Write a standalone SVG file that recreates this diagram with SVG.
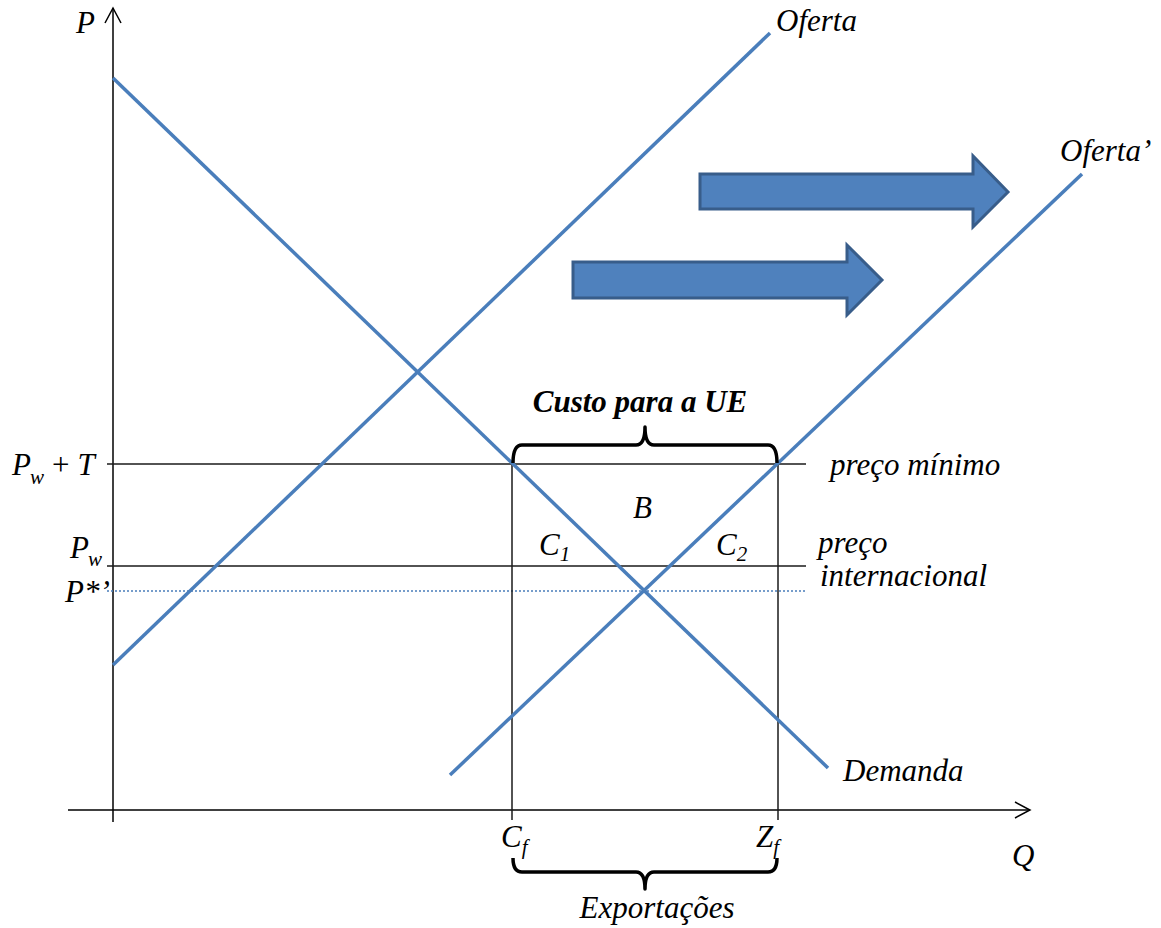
<svg xmlns="http://www.w3.org/2000/svg" width="1161" height="928" viewBox="0 0 1161 928">
<style>
.ax{stroke:#000;stroke-width:1.5;fill:none}
.thin{stroke:#1a1a1a;stroke-width:1.5;fill:none}
.curve{stroke:#4a7ebb;stroke-width:3.5;fill:none}
.brace{stroke:#000;stroke-width:3.5;fill:none;stroke-linejoin:round}
.big{fill:#4f81bd;stroke:#385d8a;stroke-width:3}
text{font-family:"Liberation Serif","Times New Roman",serif;font-style:italic;fill:#000;font-size:31px}
.sub{font-size:21px}
.bold{font-weight:bold}
</style>
<rect width="1161" height="928" fill="#fff"/>
<g id="axes">
<line class="ax" x1="113" y1="8" x2="113" y2="822"/>
<polyline class="ax" points="105,23 113,8 121,23"/>
<line class="ax" x1="68" y1="810" x2="1030" y2="810"/>
<polyline class="ax" points="1015,802 1030,810 1015,818"/>
</g>
<g id="connectors">
<line class="thin" x1="107" y1="464" x2="806" y2="464"/>
<line class="thin" x1="107" y1="566" x2="806" y2="566"/>
<line x1="107" y1="591" x2="806" y2="591" stroke="#4a7ebb" stroke-width="1.5" stroke-dasharray="2,2"/>
<line class="thin" x1="512" y1="464" x2="512" y2="820"/>
<line class="thin" x1="778" y1="464" x2="778" y2="820"/>
</g>
<g id="demanda">
<line class="curve" x1="113" y1="78" x2="828" y2="768"/>
<text x="843" y="781">Demanda</text>
</g>
<g id="oferta">
<line class="curve" x1="113" y1="665" x2="770" y2="33"/>
<text x="776" y="31">Oferta</text>
</g>
<g id="oferta2">
<line class="curve" x1="450" y1="775" x2="1082" y2="174"/>
<text x="1060" y="161">Oferta’</text>
</g>
<g id="shift-arrows">
<polygon class="big" points="700,174 973,174 973,156 1008,192 973,227 973,209 700,209"/>
<polygon class="big" points="573,262 847,262 847,245 882,280 847,315 847,298 573,298"/>
</g>
<g id="brace-top">
<path class="brace" d="M513,463 Q513,445 522,445 L636,445 Q645,445 645,427 Q645,445 654,445 L768,445 Q777,445 777,463"/>
<text class="bold" x="640" y="412" text-anchor="middle">Custo para a UE</text>
</g>
<g id="brace-bottom">
<path class="brace" d="M513,858 Q513,872 522,872 L636,872 Q645,872 645,889 Q645,872 654,872 L768,872 Q777,872 777,858"/>
<text x="657" y="918" text-anchor="middle">Exportações</text>
</g>
<g id="labels">
<text x="76" y="33">P</text>
<text x="1012" y="866">Q</text>
<text x="12" y="475" font-size="34">P<tspan class="sub" dx="-1" dy="9">w</tspan><tspan dx="8" dy="-9" font-style="normal">+</tspan><tspan dx="8">T</tspan></text>
<text x="70" y="558" font-size="34">P<tspan class="sub" dx="-1" dy="8">w</tspan></text>
<text x="65" y="602" font-size="32">P*’</text>
<text x="830" y="475">preço mínimo</text>
<text x="818" y="553">preço</text>
<text x="820" y="586">internacional</text>
<text x="633" y="518">B</text>
<text x="539" y="555">C<tspan class="sub" dx="0" dy="6">1</tspan></text>
<text x="716" y="555">C<tspan class="sub" dx="0" dy="6">2</tspan></text>
<text x="501" y="847">C<tspan class="sub" dx="0" dy="7">f</tspan></text>
<text x="756" y="847">Z<tspan class="sub" dx="0" dy="7">f</tspan></text>
</g>
</svg>
